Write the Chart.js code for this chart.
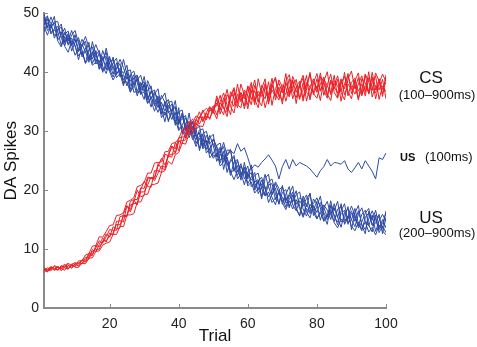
<!DOCTYPE html>
<html>
<head>
<meta charset="utf-8">
<script src="https://cdn.jsdelivr.net/npm/chart.js@4.4.1/dist/chart.umd.min.js"></script>
<style>
  html, body { margin: 0; padding: 0; background: #fff; }
  #wrap { width: 477px; height: 347px; }
</style>
</head>
<body>
<div id="wrap"><canvas id="daChart" width="477" height="347"></canvas></div>
<script>
// trial numbers (x) and axis ticks
const trials = [
  1, 2, 3, 4, 5, 6, 7, 8, 9, 10, 11, 12, 13, 14, 15, 16, 17, 18, 19, 20,
  21, 22, 23, 24, 25, 26, 27, 28, 29, 30, 31, 32, 33, 34, 35, 36, 37, 38, 39, 40,
  41, 42, 43, 44, 45, 46, 47, 48, 49, 50, 51, 52, 53, 54, 55, 56, 57, 58, 59, 60,
  61, 62, 63, 64, 65, 66, 67, 68, 69, 70, 71, 72, 73, 74, 75, 76, 77, 78, 79, 80,
  81, 82, 83, 84, 85, 86, 87, 88, 89, 90, 91, 92, 93, 94, 95, 96, 97, 98, 99, 100
];
const xTicks = [20, 40, 60, 80, 100];
const yTicks = [0, 10, 20, 30, 40, 50];

// CS response (100-900ms), one run per array
const cs1 = [
  6.3, 6.8, 6.5, 7.1, 6.4, 7.0, 7.4, 6.7, 7.2, 7.0,
  7.7, 7.5, 8.6, 8.6, 9.9, 9.5, 10.8, 11.9, 11.2, 12.7,
  12.4, 14.7, 14.8, 14.6, 17.4, 16.7, 18.3, 17.5, 20.1, 21.5,
  20.6, 20.5, 23.3, 23.3, 23.0, 26.1, 25.8, 25.6, 28.1, 26.7,
  29.4, 31.0, 29.7, 31.7, 30.3, 32.2, 33.6, 32.2, 34.0, 33.4,
  35.5, 32.9, 34.9, 37.1, 34.2, 33.1, 36.3, 35.8, 34.3, 37.7,
  36.5, 38.7, 35.3, 34.3, 37.5, 36.2, 39.0, 35.3, 37.5, 34.6,
  38.3, 36.5, 39.3, 37.7, 35.4, 38.2, 37.0, 40.0, 36.2, 37.7,
  35.2, 38.9, 37.7, 36.5, 39.5, 35.8, 38.2, 39.3, 36.8, 35.5,
  38.6, 39.9, 36.2, 37.7, 36.8, 39.2, 35.5, 38.1, 39.7, 38.4
];
const cs2 = [
  6.9, 6.2, 6.8, 6.5, 7.1, 6.3, 7.0, 7.4, 6.7, 7.5,
  7.2, 8.1, 7.8, 9.0, 8.9, 10.6, 10.4, 11.2, 12.6, 12.0,
  13.8, 13.4, 13.6, 16.0, 17.3, 16.3, 18.0, 20.0, 18.9, 19.1,
  21.9, 22.0, 21.9, 24.5, 23.7, 23.5, 26.2, 27.4, 26.3, 28.4,
  27.9, 29.7, 31.3, 30.2, 31.9, 33.3, 31.6, 33.1, 32.0, 34.2,
  32.8, 35.0, 36.5, 34.4, 32.8, 36.5, 34.8, 38.0, 36.1, 34.5,
  37.8, 35.4, 34.0, 37.2, 38.9, 35.0, 37.0, 35.9, 38.7, 37.5,
  35.1, 37.3, 38.7, 34.7, 38.0, 39.5, 36.6, 35.8, 38.5, 37.2,
  39.9, 37.0, 35.6, 38.4, 37.2, 38.8, 35.1, 38.1, 39.4, 37.5,
  36.3, 38.0, 39.4, 36.6, 40.1, 35.8, 37.8, 37.0, 38.8, 35.5
];
const cs3 = [
  6.5, 6.1, 6.9, 6.4, 7.0, 6.7, 6.4, 7.2, 6.9, 7.6,
  7.1, 7.6, 7.5, 8.5, 8.5, 9.6, 9.7, 10.7, 11.0, 11.2,
  12.5, 12.5, 13.9, 13.8, 15.8, 15.8, 16.0, 18.0, 18.0, 19.3,
  19.3, 20.9, 21.0, 21.2, 23.0, 23.3, 24.9, 24.4, 26.0, 26.4,
  28.0, 27.8, 29.6, 29.5, 31.2, 30.9, 30.8, 32.5, 32.3, 33.5,
  32.1, 34.8, 34.1, 32.5, 35.7, 37.1, 34.5, 34.0, 37.0, 36.1,
  34.5, 37.8, 36.0, 37.2, 34.0, 36.0, 38.2, 38.9, 35.8, 37.2,
  36.2, 38.9, 35.5, 37.5, 38.5, 35.1, 37.8, 39.7, 36.4, 35.6,
  38.0, 39.2, 36.3, 35.2, 38.6, 37.6, 36.7, 40.0, 36.0, 38.3,
  39.0, 35.6, 37.1, 39.6, 36.3, 38.3, 39.4, 35.4, 37.7, 36.7
];
const cs4 = [
  6.8, 6.5, 6.3, 7.2, 6.9, 6.6, 7.2, 7.6, 7.2, 7.1,
  8.0, 8.0, 9.0, 9.2, 10.5, 10.6, 12.1, 12.0, 13.0, 14.0,
  14.1, 15.7, 15.8, 16.2, 18.0, 18.3, 18.7, 20.6, 20.8, 21.3,
  22.9, 22.9, 24.6, 24.7, 24.8, 26.5, 26.6, 27.9, 28.1, 28.7,
  30.2, 30.4, 31.7, 31.4, 32.6, 32.2, 33.3, 33.9, 33.4, 34.3,
  34.3, 36.1, 33.8, 33.2, 36.0, 37.4, 35.0, 36.5, 33.8, 36.4,
  38.3, 35.0, 36.8, 35.9, 38.1, 34.6, 37.5, 39.2, 36.2, 35.2,
  38.5, 39.6, 36.8, 35.7, 37.7, 39.0, 35.1, 37.5, 38.9, 36.6,
  39.3, 36.1, 37.9, 39.7, 36.6, 35.6, 38.5, 37.2, 39.8, 36.4,
  37.9, 35.3, 38.9, 38.2, 36.4, 40.0, 37.0, 38.7, 35.9, 39.3
];
const cs5 = [
  6.0, 6.6, 7.0, 6.5, 6.5, 7.2, 6.8, 6.6, 7.4, 7.7,
  7.5, 8.2, 8.1, 9.3, 9.1, 10.2, 11.4, 11.0, 12.1, 13.3,
  13.2, 13.2, 15.5, 15.7, 15.7, 18.1, 18.4, 18.4, 20.4, 20.3,
  22.2, 22.1, 22.2, 24.0, 25.4, 24.3, 25.7, 27.5, 27.0, 28.9,
  29.0, 29.1, 31.0, 32.1, 31.1, 32.5, 31.9, 33.2, 34.2, 33.0,
  36.0, 33.9, 32.8, 36.2, 35.2, 34.2, 38.0, 35.0, 36.6, 33.8,
  36.9, 34.5, 38.9, 36.4, 35.5, 38.4, 34.4, 37.3, 38.2, 36.5,
  39.8, 36.1, 37.6, 38.8, 35.7, 37.0, 39.5, 35.3, 38.2, 39.8,
  36.9, 38.5, 40.1, 36.2, 37.8, 39.4, 36.6, 35.3, 38.9, 40.2,
  37.2, 39.1, 36.0, 39.7, 38.3, 36.9, 39.9, 38.5, 36.3, 39.6
];
const cs6 = [
  6.6, 6.3, 7.0, 6.7, 6.5, 6.9, 7.1, 6.6, 7.5, 6.9,
  6.9, 7.7, 7.9, 8.3, 9.6, 9.9, 10.0, 11.4, 11.4, 12.2,
  12.8, 14.2, 14.1, 15.6, 15.5, 17.5, 17.7, 17.8, 19.7, 19.7,
  20.9, 22.2, 21.6, 22.9, 24.1, 23.9, 25.9, 26.1, 26.2, 28.3,
  28.4, 28.5, 30.4, 30.3, 32.0, 31.2, 32.5, 31.9, 33.6, 33.3,
  34.8, 33.6, 35.7, 33.5, 36.7, 35.6, 34.0, 36.6, 35.5, 37.4,
  35.4, 36.9, 34.9, 37.8, 36.6, 35.6, 37.8, 36.3, 35.3, 37.9,
  37.3, 35.8, 38.5, 36.6, 37.9, 35.6, 38.3, 37.5, 36.5, 38.9,
  36.8, 38.3, 36.0, 38.7, 37.5, 36.5, 38.9, 36.2, 38.0, 37.1,
  38.7, 36.8, 38.0, 36.0, 39.1, 37.5, 36.5, 38.9, 37.1, 38.3
];

// US response (200-900ms), one run per array
const us1 = [
  49.4, 47.7, 49.4, 47.8, 45.3, 44.3, 46.1, 44.8, 46.3, 47.1,
  44.9, 42.9, 44.1, 43.1, 41.2, 41.7, 43.3, 42.0, 43.4, 40.5,
  39.2, 40.7, 42.2, 40.8, 38.9, 39.5, 36.6, 36.8, 38.3, 36.7,
  37.9, 35.2, 33.4, 35.2, 35.5, 36.5, 33.4, 32.0, 33.2, 30.4,
  31.0, 32.3, 30.7, 28.6, 30.3, 30.9, 27.8, 28.4, 25.5, 26.2,
  27.6, 28.0, 25.2, 25.5, 23.0, 23.4, 25.0, 23.0, 20.9, 23.1,
  23.8, 21.2, 20.0, 21.7, 20.6, 17.9, 19.3, 21.1, 19.5, 18.1,
  19.3, 20.6, 17.5, 16.5, 18.2, 17.3, 18.6, 19.4, 16.2, 15.1,
  16.4, 17.5, 16.6, 15.0, 17.7, 15.4, 13.7, 16.2, 16.8, 15.0,
  13.8, 15.9, 17.0, 14.8, 13.9, 15.8, 13.0, 14.8, 15.9, 14.7
];
const us2 = [
  46.9, 48.4, 47.5, 48.6, 48.6, 45.8, 44.5, 46.3, 44.8, 42.9,
  44.0, 45.6, 44.4, 42.2, 43.2, 44.7, 43.2, 40.3, 41.0, 42.3,
  41.1, 39.1, 39.8, 37.7, 40.2, 40.4, 37.9, 38.7, 39.5, 37.2,
  34.8, 35.5, 36.7, 35.3, 33.1, 34.6, 35.4, 32.8, 31.4, 33.3,
  33.6, 30.7, 28.9, 30.6, 29.3, 27.1, 29.6, 30.0, 27.8, 25.8,
  25.9, 26.4, 27.4, 24.2, 24.8, 25.6, 21.9, 22.8, 23.7, 21.1,
  22.2, 23.0, 19.4, 20.5, 22.7, 20.6, 18.8, 17.5, 20.0, 20.6,
  17.8, 18.4, 19.7, 16.7, 15.7, 18.2, 19.2, 16.8, 17.7, 18.7,
  17.0, 14.9, 15.7, 17.3, 15.8, 14.1, 16.5, 17.7, 14.5, 14.9,
  16.9, 14.3, 13.1, 15.4, 16.1, 14.1, 15.5, 12.8, 13.9, 12.8
];
const us3 = [
  48.7, 49.6, 46.8, 47.1, 47.3, 48.2, 45.1, 46.6, 43.6, 45.1,
  45.9, 43.8, 41.6, 43.9, 44.3, 41.9, 41.1, 43.7, 41.9, 40.2,
  41.6, 42.4, 39.2, 39.6, 37.7, 39.7, 40.2, 38.2, 36.2, 38.0,
  36.8, 37.7, 34.6, 33.2, 34.9, 33.4, 34.9, 35.1, 32.2, 32.5,
  30.2, 28.8, 31.0, 31.6, 29.1, 29.7, 27.0, 27.7, 29.3, 27.6,
  24.9, 26.2, 24.8, 26.8, 26.8, 23.6, 22.5, 24.1, 22.9, 24.1,
  20.6, 21.4, 21.8, 18.9, 19.7, 21.4, 21.9, 19.4, 17.7, 19.6,
  20.1, 17.3, 18.4, 19.9, 17.2, 15.7, 17.7, 16.3, 18.5, 17.6,
  14.9, 17.0, 18.1, 15.8, 14.7, 16.8, 17.2, 14.8, 15.6, 17.3,
  15.8, 13.6, 14.6, 16.1, 16.9, 14.0, 14.4, 15.9, 12.6, 15.4
];
const us4 = [
  47.8, 46.3, 48.1, 46.3, 46.4, 46.9, 44.4, 43.4, 45.4, 44.4,
  42.8, 43.5, 41.5, 42.5, 43.5, 41.4, 42.0, 40.0, 41.7, 40.1,
  38.7, 39.8, 40.3, 38.3, 38.4, 36.6, 38.3, 38.8, 36.4, 36.6,
  34.7, 35.9, 34.3, 35.6, 32.3, 33.3, 31.9, 33.2, 32.0, 30.1,
  30.9, 29.3, 30.9, 29.1, 27.4, 28.8, 27.2, 28.5, 26.7, 25.4,
  26.3, 24.1, 24.8, 25.6, 23.1, 21.8, 23.3, 22.2, 23.2, 20.7,
  21.4, 19.5, 20.3, 21.1, 19.0, 19.7, 17.9, 18.7, 19.7, 17.9,
  16.7, 18.2, 16.8, 18.4, 16.9, 15.4, 16.9, 16.0, 17.3, 15.2,
  16.2, 14.7, 15.6, 16.7, 14.5, 13.6, 15.1, 14.5, 15.6, 13.9,
  13.1, 14.6, 13.4, 14.6, 12.9, 13.7, 12.4, 14.1, 13.1, 12.4
];
const us5 = [
  50.0, 47.5, 48.1, 49.5, 45.5, 46.4, 47.5, 44.6, 45.8, 44.6,
  42.1, 44.6, 46.1, 44.2, 42.3, 43.7, 40.5, 41.5, 44.1, 41.4,
  39.7, 41.6, 39.5, 42.2, 39.7, 36.7, 37.6, 39.5, 37.1, 39.3,
  36.1, 34.1, 36.3, 37.2, 33.8, 31.6, 34.4, 33.2, 35.2, 31.4,
  33.1, 30.0, 33.1, 29.7, 30.5, 26.7, 28.8, 26.9, 28.9, 29.5,
  25.6, 27.3, 23.5, 26.1, 26.9, 23.2, 24.2, 21.7, 24.7, 21.9,
  24.3, 20.4, 21.6, 18.5, 22.0, 22.7, 19.2, 20.4, 17.6, 20.8,
  18.2, 19.3, 20.7, 17.0, 15.6, 19.0, 17.2, 19.5, 15.7, 17.3,
  19.0, 15.7, 14.2, 17.5, 16.5, 18.1, 14.6, 15.3, 17.2, 13.3,
  16.1, 17.4, 14.0, 12.6, 16.4, 14.9, 16.6, 13.7, 14.3, 16.2
];
const us6 = [
  48.2, 49.0, 46.5, 47.4, 47.8, 45.9, 46.5, 47.0, 44.5, 45.6,
  43.5, 44.8, 43.4, 45.1, 41.5, 42.9, 43.7, 41.0, 39.8, 41.8,
  42.2, 39.6, 40.7, 39.8, 41.2, 37.8, 38.1, 36.0, 38.0, 38.4,
  35.6, 36.8, 35.6, 34.0, 36.1, 34.9, 31.6, 33.6, 34.0, 31.6,
  32.0, 32.7, 29.4, 30.9, 27.9, 29.2, 29.5, 26.3, 27.1, 27.9,
  26.8, 24.6, 26.6, 23.0, 25.2, 25.9, 23.1, 24.5, 21.9, 22.8,
  21.7, 22.5, 22.9, 20.2, 19.1, 20.9, 21.1, 18.4, 19.6, 18.8,
  17.1, 19.2, 18.0, 19.2, 19.7, 16.8, 15.6, 17.6, 16.6, 18.1,
  17.5, 16.2, 15.0, 16.3, 17.0, 15.3, 17.7, 14.2, 15.3, 16.5,
  14.7, 16.5, 14.2, 13.3, 15.1, 16.5, 15.0, 13.3, 15.0, 13.6
];
const us7 = [
  49.2, 47.1, 47.8, 48.4, 46.9, 44.6, 46.8, 45.3, 47.1, 45.3,
  45.5, 42.6, 43.6, 41.7, 45.2, 42.9, 41.7, 42.7, 40.4, 42.7,
  40.4, 40.6, 41.5, 38.0, 39.1, 38.5, 39.6, 36.5, 36.8, 35.4,
  38.6, 37.1, 34.9, 36.0, 34.0, 32.7, 33.9, 34.6, 31.0, 34.0,
  29.6, 31.4, 31.6, 29.5, 28.6, 30.2, 30.4, 27.9, 26.2, 28.7,
  27.3, 25.1, 25.9, 24.7, 22.5, 24.8, 25.2, 22.5, 23.9, 22.3,
  23.0, 20.0, 21.5, 22.2, 20.1, 18.9, 20.0, 21.4, 20.3, 17.6,
  18.9, 17.0, 19.2, 17.6, 18.7, 18.3, 16.3, 15.3, 17.4, 16.2,
  17.9, 17.1, 15.4, 18.2, 15.5, 14.6, 16.0, 16.6, 14.2, 16.1,
  15.3, 13.9, 15.9, 16.6, 14.1, 12.9, 15.8, 15.3, 13.5, 16.5
];

// US response (100ms) - the run that levels off
const us100 = [
  48.0, 49.3, 48.3, 45.8, 47.1, 47.7, 45.0, 45.8, 44.7, 46.4,
  43.6, 44.4, 45.3, 42.1, 42.9, 43.6, 40.6, 42.4, 42.7, 40.4,
  42.6, 39.9, 40.4, 38.7, 40.2, 37.1, 39.1, 39.5, 36.9, 37.9,
  35.3, 36.6, 37.0, 34.5, 32.9, 35.1, 33.1, 33.8, 34.2, 31.1,
  32.7, 30.4, 30.9, 31.5, 29.2, 29.8, 27.5, 29.3, 27.9, 28.6,
  27.4, 26.3, 28.1, 25.8, 26.7, 26.2, 27.9, 26.6, 27.2, 25.5,
  23.6, 24.3, 23.9, 24.7, 25.3, 26.0, 25.1, 24.1, 21.9, 24.0,
  25.2, 23.6, 25.2, 24.1, 24.7, 24.4, 24.1, 23.6, 22.9, 22.2,
  23.3, 24.0, 25.2, 24.1, 24.7, 24.6, 24.4, 25.0, 23.6, 23.0,
  23.8, 24.7, 23.6, 25.0, 24.1, 23.2, 21.9, 25.5, 25.2, 26.3
];

const csRuns = [cs1, cs2, cs3, cs4, cs5, cs6];
const usRuns = [us1, us2, us3, us4, us5, us6, us7];

const red = "rgb(236, 32, 38)";
const blue = "rgb(46, 74, 164)";
const axisGray = "#8a8a8a";
const fontFamily = "'Liberation Sans', Arial, Helvetica, sans-serif";

function toPoints(values) {
  return values.map((v, i) => ({ x: trials[i], y: v }));
}

function runDataset(values, color) {
  return {
    data: toPoints(values),
    borderColor: color,
    backgroundColor: color,
    borderWidth: 1,
    pointRadius: 0,
    tension: 0,
    fill: false,
  };
}

// first dataset is painted last, so the 100ms run sits on top
const datasets = [runDataset(us100, blue)]
  .concat(csRuns.map((r) => runDataset(r, red)))
  .concat(usRuns.map((r) => runDataset(r, blue)));

// matlab-style ticks pointing into the plot
const inwardTicks = {
  id: "inwardTicks",
  afterDraw(chart) {
    const { ctx, chartArea, scales } = chart;
    ctx.save();
    ctx.strokeStyle = axisGray;
    ctx.lineWidth = 1;
    xTicks.forEach((v) => {
      const px = Math.round(scales.x.getPixelForValue(v)) + 0.5;
      ctx.beginPath();
      ctx.moveTo(px, chartArea.bottom);
      ctx.lineTo(px, chartArea.bottom - 4);
      ctx.stroke();
    });
    yTicks.forEach((v) => {
      const py = Math.round(scales.y.getPixelForValue(v)) + 0.5;
      ctx.beginPath();
      ctx.moveTo(chartArea.left, py);
      ctx.lineTo(chartArea.left + 4, py);
      ctx.stroke();
    });
    ctx.restore();
  },
};

// labels to the right of the curves
const sideLabels = {
  id: "sideLabels",
  afterDraw(chart) {
    const ctx = chart.ctx;
    ctx.save();
    ctx.fillStyle = "#111";
    ctx.textBaseline = "alphabetic";
    ctx.textAlign = "center";
    ctx.font = "17px " + fontFamily;
    ctx.fillText("CS", 431, 83);
    ctx.fillText("US", 431, 223);
    ctx.font = "13px " + fontFamily;
    ctx.fillText("(100–900ms)", 437, 99);
    ctx.fillText("(200–900ms)", 437, 237);
    ctx.textAlign = "left";
    ctx.font = "bold 11px " + fontFamily;
    ctx.fillText("US", 400, 161);
    ctx.font = "13px " + fontFamily;
    ctx.fillText("(100ms)", 425, 161);
    ctx.restore();
  },
};

new Chart(document.getElementById("daChart"), {
  type: "line",
  data: { datasets: datasets },
  options: {
    responsive: false,
    devicePixelRatio: 1,
    animation: false,
    events: [],
    layout: { padding: { left: 0, right: 91, top: 8, bottom: 0 } },
    plugins: {
      legend: { display: false },
      tooltip: { enabled: false },
    },
    scales: {
      x: {
        type: "linear",
        min: 1,
        max: 100,
        afterBuildTicks: (scale) => {
          scale.ticks = xTicks.map((v) => ({ value: v }));
        },
        afterFit: (scale) => {
          scale.height = 39;
        },
        grid: { display: false, drawTicks: false },
        border: { display: true, color: axisGray, width: 2 },
        ticks: {
          color: "#222",
          font: { family: fontFamily, size: 14 },
          padding: 8,
          maxRotation: 0,
          autoSkip: false,
        },
        title: {
          display: true,
          text: "Trial",
          color: "#111",
          font: { family: fontFamily, size: 17 },
          padding: { top: 0, bottom: 0 },
        },
      },
      y: {
        type: "linear",
        min: 0,
        max: 50,
        afterBuildTicks: (scale) => {
          scale.ticks = yTicks.map((v) => ({ value: v }));
        },
        afterFit: (scale) => {
          scale.width = 44;
        },
        grid: { display: false, drawTicks: false },
        border: { display: true, color: axisGray, width: 2 },
        ticks: {
          color: "#222",
          font: { family: fontFamily, size: 14 },
          padding: 5,
        },
        title: {
          display: true,
          text: "DA Spikes",
          color: "#111",
          font: { family: fontFamily, size: 17 },
          padding: { top: 1, bottom: 0 },
        },
      },
    },
  },
  plugins: [inwardTicks, sideLabels],
});
</script>
</body>
</html>
